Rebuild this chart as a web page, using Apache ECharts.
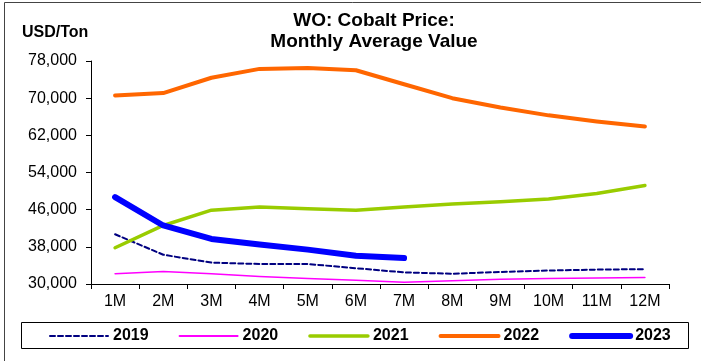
<!DOCTYPE html>
<html>
<head>
<meta charset="utf-8">
<script src="https://cdn.jsdelivr.net/npm/echarts@6/dist/echarts.min.js"></script>
<style>
  html, body { margin: 0; padding: 0; background: #fff; }
  #chart { width: 701px; height: 361px; }
</style>
</head>
<body>
<div id="chart"></div>
<script>
// Months on the category axis
const months = ['1M', '2M', '3M', '4M', '5M', '6M', '7M', '8M', '9M', '10M', '11M', '12M'];

// Monthly average cobalt price, USD per ton
const price2019 = [40700, 36300, 34600, 34300, 34300, 33400, 32500, 32200, 32600, 32900, 33100, 33200];
const price2020 = [32200, 32700, 32200, 31600, 31200, 30800, 30400, 30700, 31000, 31200, 31300, 31400];
const price2021 = [37800, 42600, 45900, 46600, 46200, 45900, 46600, 47200, 47700, 48300, 49500, 51200];
const price2022 = [70600, 71100, 74400, 76300, 76500, 76000, 73000, 70000, 68000, 66300, 65000, 63900];
const price2023 = [48700, 42600, 39700, 38500, 37400, 36100, 35600];

// Value axis range and step
const yMin = 30000;
const yMax = 78000;
const yStep = 8000;

const FONT = '"Liberation Sans", Arial, sans-serif';

// Line look per year: colour, width, dash pattern
const styles = {
  '2019': { color: '#000080', width: 2, type: [5, 3] },
  '2020': { color: '#FF00FF', width: 1.5, type: 'solid' },
  '2021': { color: '#99CC00', width: 3.5, type: 'solid' },
  '2022': { color: '#FF6600', width: 4, type: 'solid' },
  '2023': { color: '#0000FF', width: 6, type: 'solid' }
};

const chart = echarts.init(document.getElementById('chart'), null, { renderer: 'canvas' });

function lineSeries(name, data, z) {
  const s = styles[name];
  return {
    name: name,
    type: 'line',
    data: data,
    symbol: 'none',
    smooth: false,
    z: z,
    lineStyle: { color: s.color, width: s.width, type: s.type, cap: 'round', join: 'round' },
    itemStyle: { color: s.color },
    emphasis: { disabled: true }
  };
}

function legendItem(name) {
  const s = styles[name];
  return {
    name: name,
    itemStyle: { opacity: 0 },
    lineStyle: { color: s.color, width: Math.max(s.width, 2), type: s.type, cap: 'round', opacity: 1 }
  };
}

chart.setOption({
  animation: false,
  backgroundColor: '#ffffff',
  title: {
    text: 'WO: Cobalt Price:\nMonthly Average Value',
    left: 369,
    textAlign: 'center',
    top: 5,
    textStyle: { fontFamily: FONT, fontSize: 19, fontWeight: 'bold', color: '#000', lineHeight: 21 }
  },
  graphic: [
    { type: 'line', shape: { x1: 4.5, y1: 2.5, x2: 701, y2: 2.5 }, style: { stroke: '#444', lineWidth: 1 }, silent: true },
    { type: 'line', shape: { x1: 4.5, y1: 2.5, x2: 4.5, y2: 361 }, style: { stroke: '#444', lineWidth: 1 }, silent: true },
    { type: 'rect', shape: { x: 21.5, y: 322.5, width: 667, height: 26 }, style: { fill: 'none', stroke: '#000', lineWidth: 1 }, silent: true, z: 0 },
    { type: 'text', left: 22, top: 25, style: { text: 'USD/Ton', font: 'bold 16px ' + FONT, fill: '#000' }, silent: true }
  ],
  legend: {
    left: 49,
    top: 328,
    itemWidth: 58,
    itemHeight: 14,
    itemGap: 30,
    padding: 0,
    textStyle: { fontFamily: FONT, fontSize: 16, fontWeight: 'bold', color: '#000' },
    data: ['2019', '2020', '2021', '2022', '2023'].map(legendItem),
    selectedMode: false
  },
  grid: { left: 91, right: 32, top: 61, bottom: 77, containLabel: false },
  xAxis: {
    type: 'category',
    data: months,
    boundaryGap: true,
    axisLine: { lineStyle: { color: '#000', width: 1 } },
    axisTick: { show: true, alignWithLabel: false, length: 5, lineStyle: { color: '#000' } },
    axisLabel: { fontFamily: FONT, fontSize: 16, color: '#000', margin: 10, interval: 0 },
    splitLine: { show: false }
  },
  yAxis: {
    type: 'value',
    min: yMin,
    max: yMax,
    interval: yStep,
    axisLine: { show: true, lineStyle: { color: '#000', width: 1 } },
    axisTick: { show: true, length: 5, lineStyle: { color: '#000' } },
    axisLabel: {
      fontFamily: FONT, fontSize: 16, color: '#000', margin: 14,
      formatter: function (v) { return v.toLocaleString('en-US'); }
    },
    splitLine: { show: false }
  },
  series: [
    lineSeries('2019', price2019, 2),
    lineSeries('2020', price2020, 3),
    lineSeries('2021', price2021, 4),
    lineSeries('2022', price2022, 5),
    lineSeries('2023', price2023, 6)
  ]
});
</script>
</body>
</html>
